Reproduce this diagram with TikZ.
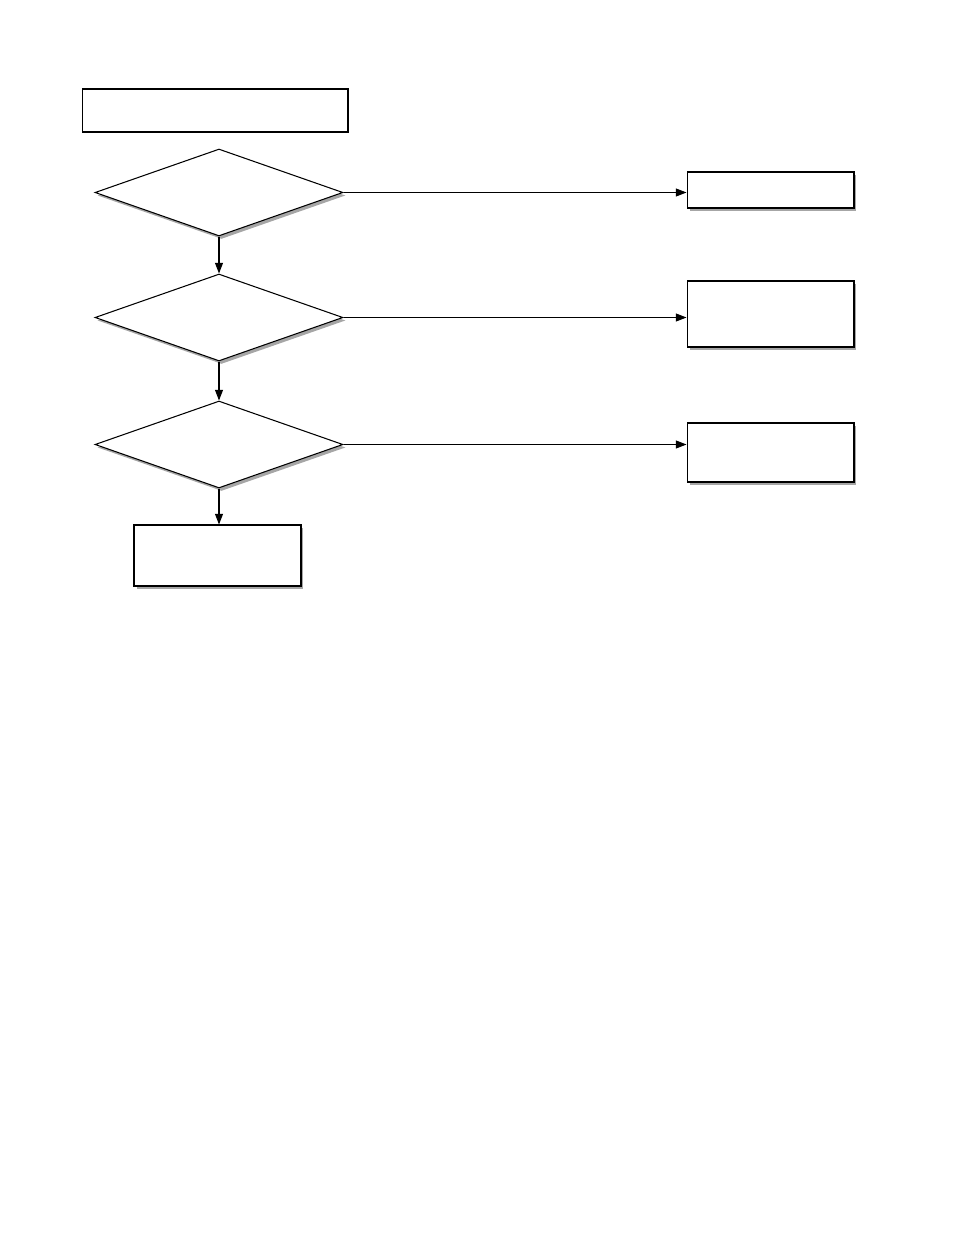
\documentclass[tikz,border=0pt]{standalone}
\usetikzlibrary{shapes.geometric,shadows,arrows.meta}
\begin{document}
\begin{tikzpicture}[x=0.02cm,y=-0.02cm,
  sh/.style={drop shadow={shadow xshift=0.05cm,shadow yshift=-0.06cm,fill=black!35,opacity=1}},
  box/.style={draw,fill=white,line width=0.6pt,inner sep=0,rectangle},
  dia/.style={draw,fill=white,line width=0.6pt,diamond,inner sep=0,minimum width=4.96cm,minimum height=1.74cm,sh},
  arr/.style={-{Triangle[length=6pt,width=4.5pt]},line width=0.6pt}]
\useasboundingbox (0,0) rectangle (954,1243);
\node[box,minimum width=5.32cm,minimum height=0.86cm] (t) at (215,110.5) {};
\node[dia] (d1) at (219,192.5) {};
\node[dia] (d2) at (219,317.5) {};
\node[dia] (d3) at (219,444.5) {};
\node[box,sh,minimum width=3.34cm,minimum height=0.72cm] (b1) at (770.5,190) {};
\node[box,sh,minimum width=3.34cm,minimum height=1.32cm] (b2) at (770.5,314) {};
\node[box,sh,minimum width=3.34cm,minimum height=1.18cm] (b3) at (770.5,452.5) {};
\node[box,sh,minimum width=3.34cm,minimum height=1.22cm] (b4) at (217.5,555.5) {};
\draw[arr] (d1.east) -- (d1.east -| b1.west);
\draw[arr] (d2.east) -- (d2.east -| b2.west);
\draw[arr] (d3.east) -- (d3.east -| b3.west);
\draw[arr] (d1.south) -- (d2.north);
\draw[arr] (d2.south) -- (d3.north);
\draw[arr] (d3.south) -- (d3.south |- b4.north);
\end{tikzpicture}
\end{document}
